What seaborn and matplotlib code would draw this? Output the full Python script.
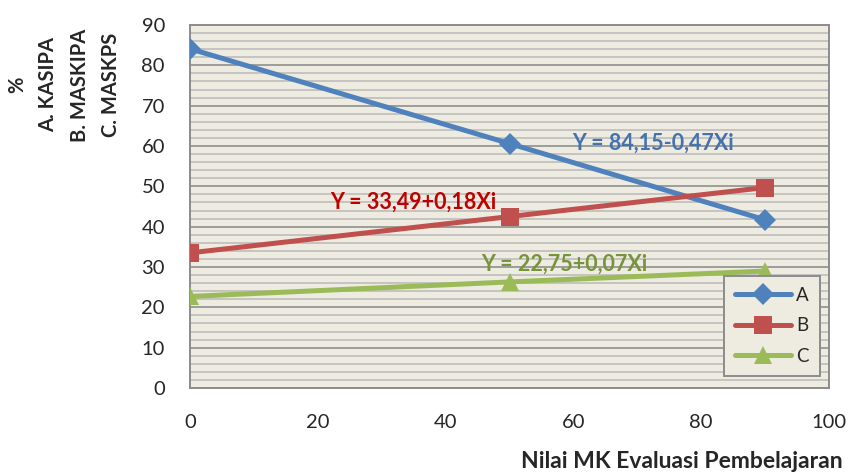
import matplotlib
matplotlib.use("Agg")
import matplotlib.pyplot as plt
import seaborn as sns
import pandas as pd
from matplotlib.ticker import MultipleLocator

# Data
x_values = [0, 50, 90]
series_a = [84.1, 60.6, 41.7]
series_b = [33.5, 42.5, 49.7]
series_c = [22.7, 26.3, 29.0]
series_names = ["A", "B", "C"]
equations = ["Y = 84,15-0,47Xi", "Y = 33,49+0,18Xi", "Y = 22,75+0,07Xi"]
eq_pos = [(72.5, 60.6), (35, 46.0), (58.5, 30.6)]

colors = {"A": "#4F81BD", "B": "#C0504D", "C": "#9BBB59"}
text_colors = ["#4472B0", "#C00000", "#77933C"]
markers = {"A": "D", "B": "s", "C": "^"}
marker_sizes = {"A": 11, "B": 13, "C": 13}

df = pd.DataFrame({
    "x": x_values * 3,
    "y": series_a + series_b + series_c,
    "series": [n for n in series_names for _ in x_values],
})

sns.set_style("white")
plt.rcParams["font.family"] = ["Lato", "DejaVu Sans"]

fig = plt.figure(figsize=(8.58, 4.72), dpi=100)
ax = fig.add_axes([190 / 858, 1 - 388 / 472, (829 - 190) / 858, (388 - 25) / 472])
ax.set_facecolor("#EEECE1")

for name in series_names:
    sub = df[df["series"] == name]
    sns.lineplot(data=sub, x="x", y="y", ax=ax, color=colors[name], linewidth=3.6,
                 marker=markers[name], markersize=marker_sizes[name],
                 markeredgewidth=0, label=name, zorder=3)

ax.set_xlim(0, 100)
ax.set_ylim(0, 90)
ax.xaxis.set_major_locator(MultipleLocator(20))
ax.yaxis.set_major_locator(MultipleLocator(10))
ax.yaxis.set_minor_locator(MultipleLocator(2))
ax.grid(which="minor", axis="y", color="#BDBDBD", linewidth=1.2, zorder=0)
ax.grid(which="major", axis="y", color="#9C9C9C", linewidth=1.4, zorder=0)
ax.grid(which="major", axis="x", visible=False)
ax.set_axisbelow(True)
for sp in ax.spines.values():
    sp.set_color("#8C8C8C")
    sp.set_linewidth(1.4)
ax.tick_params(axis="both", which="major", direction="out", length=6, width=1.4,
               color="#8C8C8C", labelsize=14.5)
ax.tick_params(axis="y", which="minor", length=0)
ax.tick_params(axis="y", pad=12)
ax.tick_params(axis="x", pad=13)
ax.set_xlabel("")
ax.set_ylabel("")

for eq, (ex, ey), tc in zip(equations, eq_pos, text_colors):
    ax.text(ex, ey, eq, color=tc, fontsize=15.5, fontweight="bold",
            ha="center", va="center", zorder=4)

leg = ax.legend(loc="lower right", bbox_to_anchor=(0.986, 0.033), frameon=True,
                fancybox=False, facecolor="#EEECE1", edgecolor="#8C8C8C",
                fontsize=13.5, handlelength=3.0, handletextpad=0.25,
                labelspacing=0.72, borderpad=0.6, borderaxespad=0)
leg.get_frame().set_linewidth(1.4)
leg.get_frame().set_alpha(1)

fig.text(843 / 858, 1 - 462 / 472, "Nilai MK Evaluasi Pembelajaran",
         ha="right", va="center", fontsize=16.5, fontweight="bold")
fig.text(64 / 858, 1 - 85 / 472, "%\nA. KASIPA\nB. MASKIPA\nC. MASKPS",
         ha="center", va="center", rotation=90, multialignment="center",
         fontsize=14.5, fontweight="bold", linespacing=1.7)

fig.savefig("out.png", dpi=100)
